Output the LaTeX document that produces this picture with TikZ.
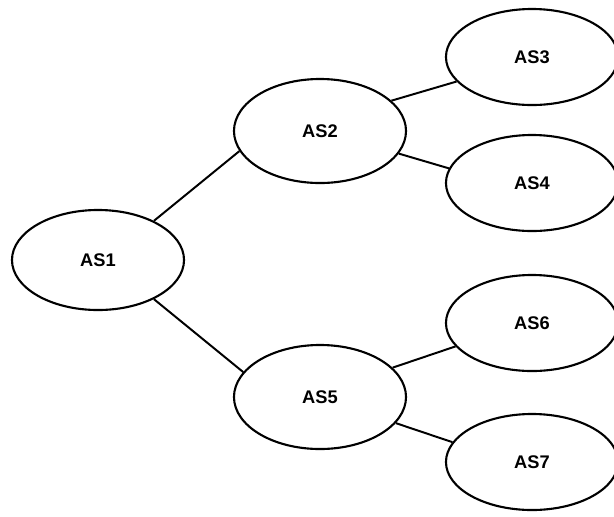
\documentclass[tikz,border=0pt]{standalone}
\usepackage{fontspec}
\setmainfont{Liberation Sans}
\usetikzlibrary{shapes.geometric}

\begin{document}
\begin{tikzpicture}[
      x=0.025cm, y=-0.025cm,
      as/.style={
        ellipse,
        draw=black,
        line width=1.5pt,
        inner sep=0pt,
        minimum width=4.3cm,
        minimum height=2.5cm,
        font=\fontsize{13}{15}\selectfont\bfseries
      },
      link/.style={
        line width=1.4pt
      }
    ]

    \clip (0,0) rectangle (614,516);

    \node [as] (AS1) at (98,260) {AS1};
    \node [as, minimum height=2.6cm] (AS2) at (320,131) {AS2};
    \node [as, minimum height=2.6cm] (AS5) at (320,397) {AS5};
    \node [as, minimum height=2.4cm] (AS3) at (532,57) {AS3};
    \node [as, minimum height=2.4cm] (AS4) at (532,183) {AS4};
    \node [as, minimum height=2.4cm] (AS6) at (532,323) {AS6};
    \node [as, minimum height=2.4cm] (AS7) at (532,462) {AS7};

    \draw [link] (AS1.35) -- (AS2.194);
    \draw [link] (AS1.325) -- (AS5.162);
    \draw [link] (AS2.23) -- (AS3.198);
    \draw [link] (AS2.344) -- (AS4.170);
    \draw [link] (AS5.22) -- (AS6.197);
    \draw [link] (AS5.341) -- (AS7.166);

    \end{tikzpicture}
\end{document}
